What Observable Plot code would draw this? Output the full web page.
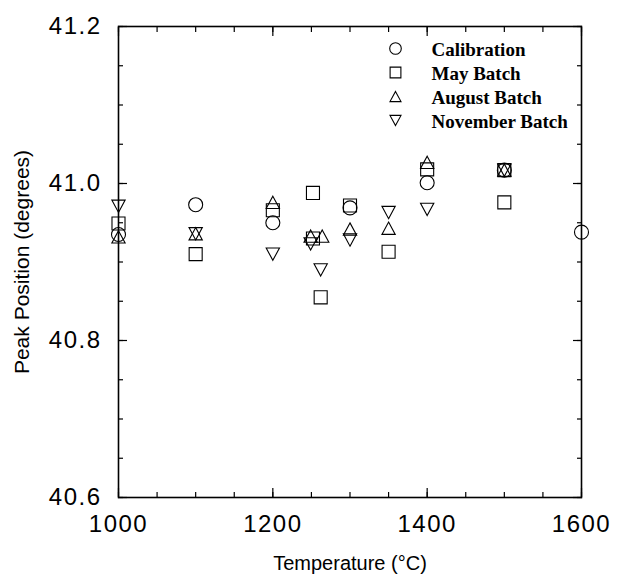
<!DOCTYPE html>
<html><head><meta charset="utf-8">
<script src="https://cdn.jsdelivr.net/npm/d3@7"></script>
<script src="https://cdn.jsdelivr.net/npm/@observablehq/plot@0.6"></script>
<style>
body{margin:0;background:#fff;}
#chart{width:619px;height:581px;}
#chart g[aria-label$="tick label"] text{letter-spacing:1.5px;}
</style>
</head><body><div id="chart"></div>
<script>
// ---- data ----
const seriesNames = ["Calibration", "May Batch", "August Batch", "November Batch"];

const calibrationT = [1000, 1100, 1200, 1300, 1400, 1500, 1600];
const calibrationP = [40.935, 40.973, 40.950, 40.969, 41.001, 41.017, 40.938];

const mayT = [1000, 1100, 1200, 1252, 1252, 1262, 1300, 1350, 1400, 1500, 1500];
const mayP = [40.949, 40.910, 40.966, 40.988, 40.930, 40.855, 40.972, 40.913, 41.018, 41.017, 40.976];

const augustT = [1000, 1100, 1200, 1249, 1264, 1300, 1350, 1400, 1500];
const augustP = [40.932, 40.936, 40.976, 40.933, 40.933, 40.942, 40.943, 41.027, 41.017];

const novemberT = [1000, 1100, 1200, 1249, 1262, 1300, 1350, 1400, 1500];
const novemberP = [40.971, 40.936, 40.910, 40.923, 40.890, 40.928, 40.963, 40.967, 41.017];

const xMajor = [1000, 1200, 1400, 1600];
const xMinor = d3.range(1000, 1601, 50);
const yMajor = [40.6, 40.8, 41.0, 41.2];
const yMinor = d3.range(0, 13).map(i => +(40.6 + i * 0.05).toFixed(2));

// ---- symbols ----
const rad = s => Math.sqrt(s / Math.PI);
const symCircle = {draw(c, s) { const r = rad(s); c.moveTo(r, 0); c.arc(0, 0, r, 0, 2 * Math.PI); }};
const symSquare = {draw(c, s) { const r = rad(s) * 0.93; c.moveTo(-r, -r); c.lineTo(r, -r); c.lineTo(r, r); c.lineTo(-r, r); c.closePath(); }};
const symUp = {draw(c, s) { const r = rad(s); const w = r * 0.95, h = r * 0.88; c.moveTo(0, -h); c.lineTo(w, h); c.lineTo(-w, h); c.closePath(); }};
const symDown = {draw(c, s) { const r = rad(s); const w = r * 0.95, h = r * 0.88; c.moveTo(0, h); c.lineTo(w, -h); c.lineTo(-w, -h); c.closePath(); }};
const symbols = [symCircle, symSquare, symUp, symDown];

const toRows = (T, P) => T.map((t, i) => ({t, p: P[i]}));
const datasets = [
  toRows(calibrationT, calibrationP),
  toRows(mayT, mayP),
  toRows(augustT, augustP),
  toRows(novemberT, novemberP)
];

const marks = [];
// axes: labels
marks.push(Plot.axisX({anchor: "bottom", ticks: xMajor, tickSize: 0, tickPadding: 17, tickFormat: d => String(d), fontSize: 24, label: null}));
marks.push(Plot.axisY({anchor: "left", ticks: yMajor, tickSize: 0, tickPadding: 17, tickFormat: d => d.toFixed(1), fontSize: 24, label: null}));
// inward ticks on all four sides
for (const a of ["bottom", "top"]) {
  marks.push(Plot.axisX({anchor: a, ticks: xMinor, tickSize: -5, text: null, label: null, strokeWidth: 1.2}));
  marks.push(Plot.axisX({anchor: a, ticks: xMajor, tickSize: -9, text: null, label: null, strokeWidth: 1.2}));
}
for (const a of ["left", "right"]) {
  marks.push(Plot.axisY({anchor: a, ticks: yMinor, tickSize: -5, text: null, label: null, strokeWidth: 1.2}));
  marks.push(Plot.axisY({anchor: a, ticks: yMajor, tickSize: -9, text: null, label: null, strokeWidth: 1.2}));
}
marks.push(Plot.frame({stroke: "black", strokeWidth: 1.6}));

// data points
datasets.forEach((rows, i) => {
  marks.push(Plot.dot(rows, {x: "t", y: "p", symbol: symbols[i], r: 7, stroke: "black", fill: "none", strokeWidth: 1.1}));
});

// legend inside the frame
seriesNames.forEach((name, i) => {
  marks.push(Plot.dot([name], {frameAnchor: "top-left", dx: 277, dy: 22 + 24 * i, symbol: symbols[i], r: 5.8, stroke: "black", fill: "none", strokeWidth: 1.1}));
  marks.push(Plot.text([name], {text: d => d, frameAnchor: "top-left", dx: 313, dy: 23 + 24 * i, textAnchor: "start", lineAnchor: "middle", fontFamily: "Liberation Serif", fontWeight: "bold", fontSize: 19, fill: "black"}));
});

// axis titles
marks.push(Plot.text(["Peak Position (degrees)"], {text: d => d, frameAnchor: "left", dx: -96, rotate: -90, textAnchor: "middle", lineAnchor: "middle", fontSize: 21, fill: "black"}));
marks.push(Plot.text(["Temperature (°C)"], {text: d => d, frameAnchor: "bottom", dy: 66, textAnchor: "middle", lineAnchor: "middle", fontSize: 20, fill: "black"}));

const chart = Plot.plot({
  width: 619,
  height: 581,
  marginLeft: 118,
  marginRight: 38,
  marginTop: 26,
  marginBottom: 84,
  style: {fontFamily: "'Liberation Sans', Arial, sans-serif", background: "white", color: "black"},
  x: {domain: [1000, 1600]},
  y: {domain: [40.6, 41.2]},
  marks
});
document.getElementById("chart").appendChild(chart);
</script>
</body></html>
